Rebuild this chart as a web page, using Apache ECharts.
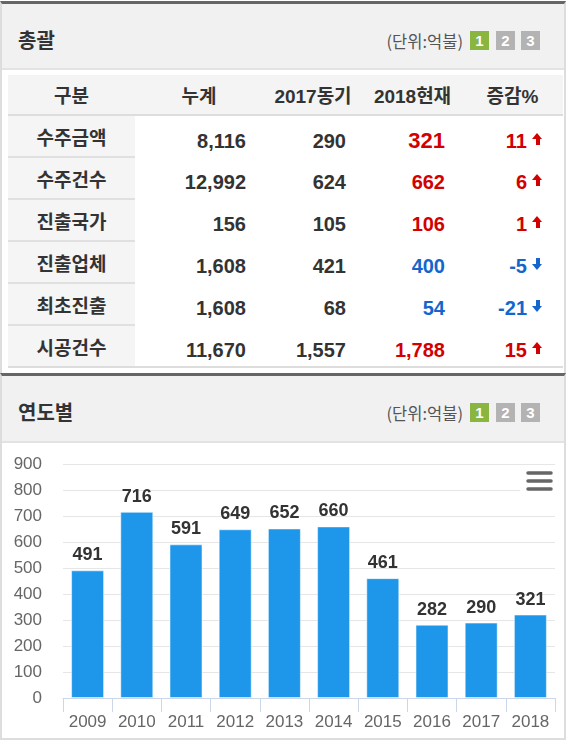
<!DOCTYPE html>
<html>
<head>
<meta charset="utf-8">
<script src="https://cdn.jsdelivr.net/npm/echarts@6/dist/echarts.min.js"></script>
<style>
  html, body { margin: 0; padding: 0; background: #fff; }
  body { width: 566px; height: 741px; position: relative; overflow: hidden;
         font-family: "Liberation Sans", Arial, "Noto Sans CJK KR", sans-serif; color: #333; }
  .panel { position: absolute; left: 0; width: 566px; box-sizing: border-box;
           border-left: 2px solid #ddd; border-right: 2px solid #ddd; border-top: 3px solid #666; background: #fff; }
  .hd { position: relative; height: 64px; background: #f1f1f1; border-bottom: 2px solid #e3e3e3; }
  .hd .title { position: absolute; left: 16px; top: 24px; line-height: 24px; font-size: 20px; font-weight: bold;
               font-family: "Noto Sans CJK KR", sans-serif; color: #333; }
  .hd .unit { position: absolute; right: 101px; top: 26px; line-height: 22px; font-size: 16.5px; color: #555;
              font-family: "Noto Sans CJK KR", sans-serif; }
  .hd .btn { position: absolute; top: 27px; width: 19px; height: 19px; line-height: 19px; text-align: center;
             font-size: 15px; font-weight: bold; color: #fff; background: #b3b3b3; }
  .hd .btn.on { background: #8ab53f; }
  table { position: absolute; left: 6px; top: 71px; width: 555px; border-collapse: collapse; table-layout: fixed; }
  th { height: 39px; padding: 0; background: #f4f4f4; border-bottom: 2px solid #ddd; font-size: 19px; font-weight: bold;
       font-family: "Liberation Sans", "Noto Sans CJK KR", sans-serif; text-align: center; color: #333; }
  td { height: 40px; padding: 0 17px 0 0; font-size: 20px; font-weight: bold; text-align: right; vertical-align: middle; }
  td.num { padding-top: 9px; height: 31px; }
  td.big { font-size: 22px; }
  td.lbl { padding: 0; text-align: center; background: #f5f5f5; border-bottom: 2px solid #e0e0e0;
           font-family: "Noto Sans CJK KR", sans-serif; font-size: 19px; color: #333; }
  tr.last td { border-bottom: 2px solid #ddd; }
  td.chg { padding-right: 20px; }
  .up { color: #d20000; }
  .down { color: #1466cc; }
  .arr { display: inline-block; position: relative; width: 11px; height: 12px; margin-left: 5px; vertical-align: 3px; }
  .arr i { position: absolute; left: 0; width: 0; height: 0; border-left: 5.5px solid transparent; border-right: 5.5px solid transparent; }
  .arr b { position: absolute; left: 3.5px; width: 4px; height: 6px; }
  .arr.up i { top: 0; border-bottom: 6px solid #d20000; }
  .arr.up b { top: 6px; background: #d20000; }
  .arr.down i { top: 6px; border-top: 6px solid #1466cc; }
  .arr.down b { top: 0; background: #1466cc; }
  #chart { width: 562px; height: 295px; }
</style>
</head>
<body>

<div class="panel" style="top:1px;height:372px;">
  <div class="hd">
    <div class="title">총괄</div>
    <div class="unit">(단위:억불)</div>
    <div class="btn on" style="left:468px">1</div>
    <div class="btn" style="left:494px">2</div>
    <div class="btn" style="left:519px">3</div>
  </div>
  <table id="summary">
    <colgroup><col style="width:127px"><col style="width:128px"><col style="width:100px"><col style="width:99px"><col style="width:101px"></colgroup>
    <thead><tr><th>구분</th><th>누계</th><th>2017동기</th><th>2018현재</th><th>증감%</th></tr></thead>
    <tbody></tbody>
  </table>
</div>

<div class="panel" style="top:373px;height:367px;border-bottom:2px solid #ddd;">
  <div class="hd" style="height:65px">
    <div class="title">연도별</div>
    <div class="unit">(단위:억불)</div>
    <div class="btn on" style="left:468px">1</div>
    <div class="btn" style="left:494px">2</div>
    <div class="btn" style="left:519px">3</div>
  </div>
  <div id="chart"></div>
</div>

<script>
// 총괄 표
const rowNames = ['수주금액', '수주건수', '진출국가', '진출업체', '최초진출', '시공건수'];
const totals = [8116, 12992, 156, 1608, 1608, 11670];
const prev2017 = [290, 624, 105, 421, 68, 1557];
const now2018 = [321, 662, 106, 400, 54, 1788];
const changePct = [11, 6, 1, -5, -21, 15];

// 연도별 차트
const years = ['2009', '2010', '2011', '2012', '2013', '2014', '2015', '2016', '2017', '2018'];
const amounts = [491, 716, 591, 649, 652, 660, 461, 282, 290, 321];
const yTicks = [0, 100, 200, 300, 400, 500, 600, 700, 800, 900];

const fmt = n => n.toLocaleString('en-US');

const tbody = document.querySelector('#summary tbody');
rowNames.forEach((name, i) => {
  const dir = changePct[i] < 0 ? 'down' : 'up';
  const tr = document.createElement('tr');
  if (i === rowNames.length - 1) tr.className = 'last';
  // 첫 행 2018 값은 조금 크게
  const big = i === 0 ? ' big' : '';
  tr.innerHTML =
    '<td class="lbl">' + name + '</td>' +
    '<td class="num">' + fmt(totals[i]) + '</td>' +
    '<td class="num">' + fmt(prev2017[i]) + '</td>' +
    '<td class="num ' + dir + big + '">' + fmt(now2018[i]) + '</td>' +
    '<td class="num chg ' + dir + '">' + changePct[i] + '<span class="arr ' + dir + '"><i></i><b></b></span></td>';
  tbody.appendChild(tr);
});

const chart = echarts.init(document.getElementById('chart'));
const font = '"Liberation Sans", Arial, sans-serif';

chart.setOption({
  animation: false,
  grid: { left: 61, right: 9, top: 21, bottom: 40 },
  xAxis: {
    type: 'category',
    data: years,
    axisLine: { lineStyle: { color: '#ccd6eb', width: 1 } },
    axisTick: { show: true, length: 14, lineStyle: { color: '#ccd6eb' } },
    axisLabel: { color: '#666', fontSize: 17, fontFamily: font, margin: 16 }
  },
  yAxis: {
    type: 'value',
    min: yTicks[0],
    max: yTicks[yTicks.length - 1],
    interval: 100,
    axisLine: { show: false },
    axisTick: { show: false },
    axisLabel: { color: '#666', fontSize: 17, fontFamily: font, margin: 21 },
    splitLine: { lineStyle: { color: '#e6e6e6', width: 1 } }
  },
  series: [{
    type: 'bar',
    data: amounts,
    barWidth: 33,
    itemStyle: { color: '#1e97ea', borderColor: 'rgba(255,255,255,0.5)', borderWidth: 1 },
    label: {
      show: true, position: 'top', distance: 6,
      color: '#333', fontSize: 18, fontWeight: 'bold', fontFamily: font
    }
  }],
  // 메뉴 버튼
  graphic: [
    { type: 'rect', z: 100, shape: { x: 518, y: 22, width: 36, height: 30 }, style: { fill: 'rgba(255,255,255,0.9)' } },
    { type: 'line', z: 101, shape: { x1: 526, y1: 30, x2: 549, y2: 30 }, style: { stroke: '#666', lineWidth: 3.5, lineCap: 'round' } },
    { type: 'line', z: 101, shape: { x1: 526, y1: 38, x2: 549, y2: 38 }, style: { stroke: '#666', lineWidth: 3.5, lineCap: 'round' } },
    { type: 'line', z: 101, shape: { x1: 526, y1: 46, x2: 549, y2: 46 }, style: { stroke: '#666', lineWidth: 3.5, lineCap: 'round' } }
  ]
});
</script>
</body>
</html>
